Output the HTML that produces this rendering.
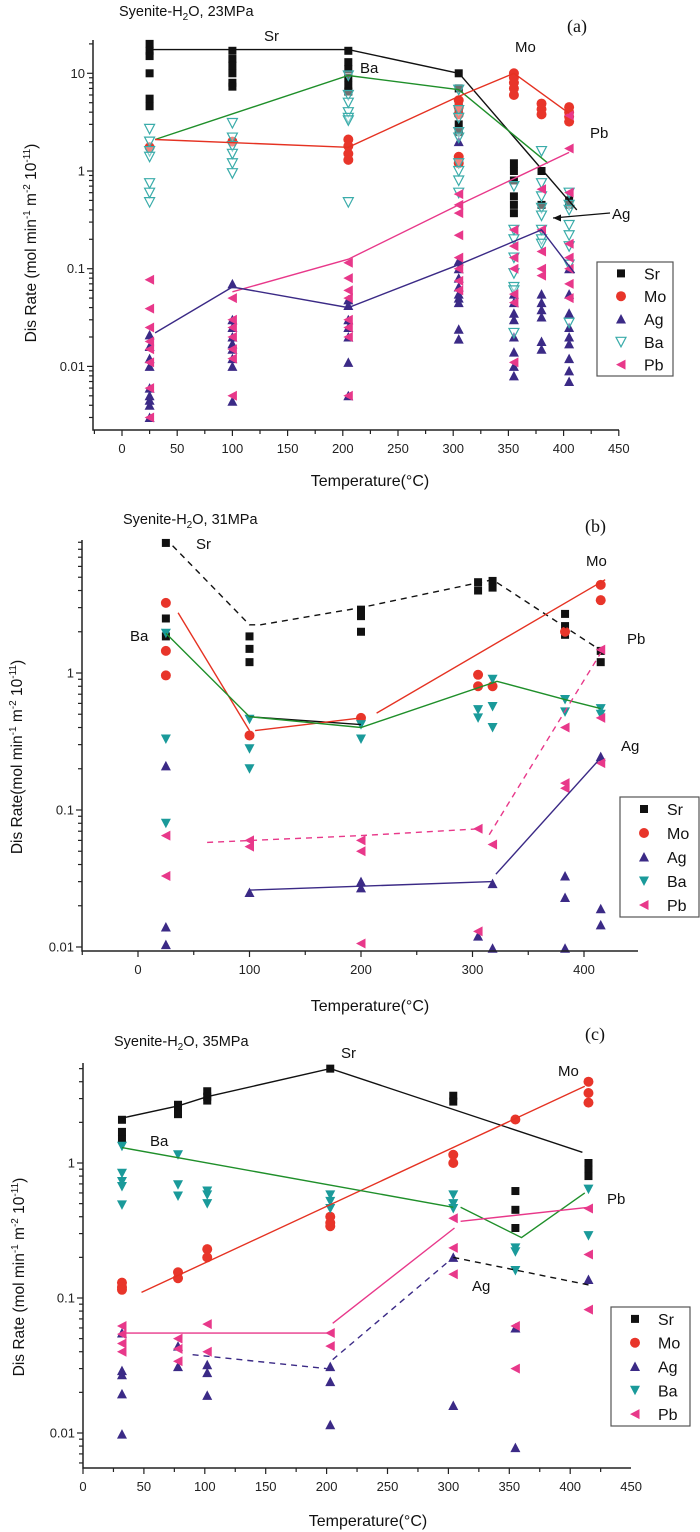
<!DOCTYPE html>
<html><head><meta charset="utf-8"><style>
html,body{margin:0;padding:0;background:#fff;}
svg{display:block;font-family:"Liberation Sans",sans-serif;}
</style></head><body>
<svg id="chart" width="700" height="1532" viewBox="0 0 700 1532" xmlns="http://www.w3.org/2000/svg"></svg>
<script>
// ---------- Panel (a) data: [temperature, [values]] ----------
const aSr=[[25,[20,17,15,10,5.5,4.6]],[100,[17,14,12,10,8,7.3]],[205,[17,13,11,9,7.5,6.5]],[305,[10,7,5,4,3,2.5]],[355,[1.2,1,0.8,0.55,0.45,0.37]],[380,[1.0,0.45]],[405,[0.5,0.45]]];
const aMo=[[25,[1.75]],[100,[2.0]],[205,[2.1,1.8,1.5,1.3]],[305,[5.3,4.5,3.8,1.4,1.2]],[355,[10,9,8,7,6]],[380,[4.9,4.3,3.8]],[405,[4.5,4,3.6,3.2]]];
const aAg=[[25,[0.021,0.016,0.012,0.01,0.006,0.005,0.0045,0.004,0.003]],[100,[0.07,0.03,0.025,0.02,0.017,0.015,0.012,0.01,0.0044]],[205,[0.048,0.042,0.03,0.025,0.02,0.011,0.005]],[305,[2.0,0.12,0.1,0.08,0.065,0.055,0.05,0.045,0.024,0.019]],[355,[0.055,0.045,0.035,0.03,0.02,0.014,0.01,0.008]],[380,[0.055,0.045,0.038,0.032,0.018,0.015]],[405,[0.1,0.055,0.035,0.025,0.02,0.017,0.012,0.009,0.007]]];
const aBa=[[25,[2.7,2.0,1.6,1.4,0.75,0.6,0.48]],[100,[3.1,2.2,1.8,1.5,1.2,0.95]],[205,[9.5,6,5,4,3.5,3.3,0.48]],[305,[6.8,4.2,3.5,2.5,2.2,1.2,1,0.8,0.6]],[355,[0.7,0.25,0.2,0.13,0.09,0.065,0.06,0.022]],[380,[1.6,0.75,0.55,0.42,0.35,0.25,0.2,0.18]],[405,[0.6,0.45,0.4,0.28,0.22,0.17,0.11,0.028]]];
const aPb=[[25,[0.077,0.039,0.025,0.018,0.015,0.011,0.006,0.003]],[100,[0.05,0.03,0.025,0.02,0.015,0.012,0.005]],[205,[0.115,0.08,0.06,0.05,0.03,0.025,0.02,0.005]],[305,[0.58,0.45,0.37,0.22,0.13,0.1,0.075,0.06]],[355,[0.25,0.17,0.13,0.1,0.055,0.045,0.011]],[380,[0.65,0.25,0.15,0.1,0.085]],[405,[3.7,1.7,0.6,0.18,0.13,0.1,0.07,0.05]]];
const aLineSr=[[25,17.5],[205,17.5],[305,10]];
const aLineSr2=[[308,9.2],[412,0.4]];
const aLineBa=[[30,2.1],[205,9.5],[305,6.8],[386,1.2]];
const aLineMo=[[30,2.1],[205,1.75],[305,5.8],[355,10],[405,3.9]];
const aLinePb=[[100,0.058],[205,0.125],[305,0.45],[405,1.55]];
const aLineAg=[[30,0.022],[100,0.065],[205,0.04],[305,0.11],[380,0.25],[410,0.09]];

// ---------- Panel (b) data ----------
const bSr=[[25,[8.9,2.5,1.85]],[100,[1.85,1.5,1.2]],[200,[2.9,2.6,2.0]],[305,[4.6,4.0]],[318,[4.7,4.2]],[383,[2.7,2.2,1.9]],[415,[1.45,1.2]]];
const bMo=[[25,[3.25,1.45,0.96]],[100,[0.35]],[200,[0.47]],[305,[0.97,0.8]],[318,[0.8]],[383,[2.0]],[415,[4.4,3.4]]];
const bAg=[[25,[0.21,0.014,0.0104]],[100,[0.025]],[200,[0.03,0.027]],[305,[0.012]],[318,[0.029,0.0098]],[383,[0.033,0.023,0.0098]],[415,[0.245,0.019,0.0145]]];
const bBa=[[25,[1.95,0.33,0.08]],[100,[0.46,0.28,0.2]],[200,[0.42,0.33]],[305,[0.54,0.47]],[318,[0.9,0.57,0.4]],[383,[0.64,0.52]],[415,[0.55,0.5]]];
const bPb=[[25,[0.065,0.033]],[100,[0.06,0.054]],[200,[0.06,0.05,0.0106]],[305,[0.073,0.013]],[318,[0.056]],[383,[0.4,0.157,0.144]],[415,[1.48,0.47,0.22]]];
const bLineSr=[[31,8.5],[100,2.25],[110,2.25],[200,3.0],[318,4.8],[413,1.5]];
const bLineSrSolid=[[100,0.48],[200,0.42]];
const bLineMo1=[[36,2.75],[100,0.38]];
const bLineMo2=[[105,0.38],[200,0.47]];
const bLineMo3=[[214,0.51],[419,4.8]];
const bLineBa=[[25,1.95],[100,0.48],[200,0.4],[322,0.87],[383,0.64],[415,0.55]];
const bLinePb1=[[62,0.058],[200,0.065],[308,0.073]];
const bLinePb2=[[315,0.066],[415,1.4]];
const bLineAg1=[[100,0.026],[318,0.03]];
const bLineAg2=[[321,0.034],[415,0.24]];

// ---------- Panel (c) data ----------
const cSr=[[32,[2.09,1.7,1.5]],[78,[2.7,2.5,2.3]],[102,[3.4,3.1,2.9]],[203,[5.0]],[304,[3.15,2.85]],[355,[0.62,0.45,0.33]],[415,[1.0,0.9,0.8]]];
const cMo=[[32,[0.13,0.12,0.115]],[78,[0.155,0.14]],[102,[0.23,0.2]],[203,[0.4,0.36,0.34]],[304,[1.15,1.0]],[355,[2.1]],[415,[4.0,3.3,2.8]]];
const cAg=[[32,[0.055,0.029,0.027,0.0195,0.0098]],[78,[0.044,0.031]],[102,[0.032,0.028,0.019]],[203,[0.031,0.024,0.0115]],[304,[0.2,0.016]],[355,[0.06,0.0078]],[415,[0.137]]];
const cBa=[[32,[1.33,0.84,0.73,0.67,0.49]],[78,[1.15,0.69,0.57]],[102,[0.62,0.58,0.5]],[203,[0.58,0.52,0.46]],[304,[0.58,0.5,0.46]],[355,[0.235,0.22,0.16]],[415,[0.64,0.29]]];
const cPb=[[32,[0.062,0.054,0.046,0.04]],[78,[0.05,0.042,0.034]],[102,[0.064,0.04]],[203,[0.055,0.044]],[304,[0.39,0.235,0.15]],[355,[0.062,0.03]],[415,[0.46,0.21,0.082]]];
const cLineSr=[[32,2.15],[78,2.65],[102,3.1],[203,5.0],[410,1.2]];
const cLineMo=[[48,0.11],[412,3.7]];
const cLineBa1=[[32,1.3],[304,0.47]];
const cLineBa2=[[310,0.47],[360,0.28],[412,0.6]];
const cLinePb1=[[32,0.055],[203,0.055]];
const cLinePb2=[[205,0.065],[305,0.33]];
const cLinePb3=[[310,0.37],[415,0.47]];
const cLineAg1=[[90,0.038],[200,0.03]];
const cLineAg2=[[205,0.035],[304,0.2]];
const cLineAgBlack=[[304,0.2],[415,0.125]];

const xTicksA=[0,50,100,150,200,250,300,350,400,450];
const xTicksB=[0,100,200,300,400];
const xTicksC=[0,50,100,150,200,250,300,350,400,450];
const yTicksA=[0.01,0.1,1,10];
const yTicksB=[0.01,0.1,1];
const yTicksC=[0.01,0.1,1];
const legendNames=["Sr","Mo","Ag","Ba","Pb"];

const NS="http://www.w3.org/2000/svg";
const svg=document.getElementById('chart');
const COL={Sr:"#111111",Mo:"#e8352a",Ag:"#3b2a86",Ba:"#1a9a9a",Pb:"#e8388a"};
const LCOL={Sr:"#111111",Mo:"#e53222",Ag:"#3b2a86",Ba:"#1f8f2a",Pb:"#e8388a"};

function mk(tag,attrs,parent){const e=document.createElementNS(NS,tag);for(const k in attrs)e.setAttribute(k,attrs[k]);(parent||svg).appendChild(e);return e;}

function marker(g,kind,x,y,openBa){
  let e;
  if(kind==="Sr"){e=mk('rect',{x:x-4,y:y-4,width:8,height:8,fill:COL.Sr},g);}
  else if(kind==="Mo"){e=mk('circle',{cx:x,cy:y,r:5,fill:COL.Mo},g);}
  else if(kind==="Ag"){e=mk('polygon',{points:`${x-5},${y+4.5} ${x+5},${y+4.5} ${x},${y-5}`,fill:COL.Ag},g);}
  else if(kind==="Ba"){
    if(openBa)e=mk('polygon',{points:`${x-5},${y-4.5} ${x+5},${y-4.5} ${x},${y+5}`,fill:"#fff","fill-opacity":"0.4",stroke:"#3aacaa","stroke-width":1.2},g);
    else e=mk('polygon',{points:`${x-5},${y-4.5} ${x+5},${y-4.5} ${x},${y+5}`,fill:COL.Ba},g);
  }
  else {e=mk('polygon',{points:`${x+4.5},${y-5} ${x+4.5},${y+5} ${x-5},${y}`,fill:COL.Pb},g);}
  
  
  return e;
}

function panel(c){
  const g=mk('g',{});
  
  
  const X=t=>c.x0+t*c.k;
  const Y=v=>c.y1-Math.log10(v)*c.dec;
  // markers
  for(const s of c.series){
    for(const grp of s.data){for(const v of grp[1]){marker(g,s.name,X(grp[0]),Y(v),c.openBa);}}
  }
  // lines
  for(const l of c.lines){
    const p=mk('polyline',{points:l.pts.map(q=>X(q[0]).toFixed(1)+','+Y(q[1]).toFixed(1)).join(' '),fill:'none',stroke:l.color,'stroke-width':1.4},g);
    if(l.dash)p.setAttribute('stroke-dasharray','6,5');
    
    
  }
  // axes
  const ax=mk('path',{d:`M${c.left},${c.top} V${c.bottom} H${c.right}`,fill:'none',stroke:'#222','stroke-width':1.5},g);
  
  
  // x ticks
  const tmin=(c.left-c.x0)/c.k, tmax=(c.right-c.x0)/c.k;
  for(let t=Math.ceil(tmin/c.minor)*c.minor;t<=tmax+0.01;t+=c.minor){
    const major=c.xTicks.includes(t);
    mk('line',{x1:X(t),x2:X(t),y1:c.bottom,y2:c.bottom+(major?6:4),stroke:'#222','stroke-width':1.2},g);
  }
  for(const t of c.xTicks){
    const tx=mk('text',{x:X(t),y:c.bottom+23,'text-anchor':'middle','font-size':13,fill:'#222'},g);
    tx.textContent=t;
    
    
  }
  // y ticks
  const dmin=Math.floor((c.y1-c.bottom)/c.dec), dmax=Math.ceil((c.y1-c.top)/c.dec);
  for(let d=dmin;d<=dmax;d++){
    for(let m=1;m<10;m++){
      const v=m*Math.pow(10,d), y=Y(v);
      if(y<c.top-0.5||y>c.bottom+0.5)continue;
      mk('line',{x1:c.left,x2:c.left-(m===1?6:4),y1:y,y2:y,stroke:'#222','stroke-width':1.2},g);
    }
  }
  for(const v of c.yTicks){
    const ty=mk('text',{x:c.left-8,y:Y(v)+4.5,'text-anchor':'end','font-size':13,fill:'#222'},g);
    ty.textContent=v;
    
    
  }
  // axis titles
  const xt=mk('text',{x:c.xtx,y:c.xty,'text-anchor':'middle','font-size':16,fill:'#111'},g);
  xt.textContent='Temperature(°C)';
  
  
  const yt=mk('text',{x:0,y:0,'text-anchor':'middle','font-size':15.5,fill:'#111',transform:`translate(${c.ytx},${c.yty}) rotate(-90)`},g);
  yt.innerHTML='Dis Rate'+(c.id==='b'?'':' ')+'(mol min<tspan dy="-6" font-size="10">-1</tspan><tspan dy="6"> m</tspan><tspan dy="-6" font-size="10">-2</tspan><tspan dy="6"> 10</tspan><tspan dy="-6" font-size="10">-11</tspan><tspan dy="6">)</tspan>';
  
  
  // title
  const tt=mk('text',{x:c.tx,y:c.ty,'font-size':14.5,fill:'#111'},g);
  tt.innerHTML='Syenite-H<tspan dy="4" font-size="10">2</tspan><tspan dy="-4">O, '+c.mpa+'</tspan>';
  
  
  const pl=mk('text',{x:c.plx,y:c.ply,'font-size':18,fill:'#111','font-family':'Liberation Serif, serif'},g);
  pl.textContent='('+c.id+')';
  
  
  // series labels
  for(const lb of c.labels){
    const t=mk('text',{x:lb[1],y:lb[2],'font-size':15,fill:'#111'},g);
    t.textContent=lb[0];
    
    
  }
  if(c.arrow){
    const a=mk('line',{x1:c.arrow[0],y1:c.arrow[1],x2:c.arrow[2],y2:c.arrow[3],stroke:'#111','stroke-width':1.2},g);
    
    
    mk('polygon',{points:`${c.arrow[2]},${c.arrow[3]} ${c.arrow[2]+8},${c.arrow[3]-3.5} ${c.arrow[2]+8},${c.arrow[3]+3.5}`,fill:'#111'},g);
  }
  // legend
  const L=c.legend;
  const lg=mk('g',{},g);
  
  
  const box=mk('rect',{x:L[0],y:L[1],width:L[2]-L[0],height:L[3]-L[1],fill:'#fff',stroke:'#555','stroke-width':1.2},lg);
  
  
  const step=(L[3]-L[1])/5;
  legendNames.forEach((n,i)=>{
    const cy=L[1]+step*(i+0.5);
    marker(lg,n,L[0]+24,cy,c.openBa);
    const t=mk('text',{x:L[0]+47,y:cy+6,'font-size':16,fill:'#111'},lg);
    t.textContent=n;
    
    
  });
}

panel({id:'a',mpa:'23MPa',openBa:true,x0:122,k:1.104,left:93,right:619,top:40,bottom:430,y1:171,dec:97.7,minor:25,
  xTicks:xTicksA,yTicks:yTicksA,
  series:[{name:'Sr',data:aSr},{name:'Mo',data:aMo},{name:'Ag',data:aAg},{name:'Ba',data:aBa},{name:'Pb',data:aPb}],
  lines:[{name:'sr-line',pts:aLineSr,color:LCOL.Sr},{name:'sr-line-drop',pts:aLineSr2,color:LCOL.Sr},{name:'ba-line',pts:aLineBa,color:LCOL.Ba},{name:'mo-line',pts:aLineMo,color:LCOL.Mo},{name:'pb-line',pts:aLinePb,color:LCOL.Pb},{name:'ag-line',pts:aLineAg,color:LCOL.Ag}],
  xtx:370,xty:486,ytx:36,yty:243,tx:119,ty:16,plx:567,ply:32,
  labels:[['Sr',264,41],['Ba',360,73],['Mo',515,52],['Pb',590,138],['Ag',612,219]],
  arrow:[610,213,553,218],legend:[597,262,673,376]});

panel({id:'b',mpa:'31MPa',openBa:false,x0:138,k:1.115,left:82,right:638,top:540,bottom:951,y1:673,dec:137,minor:50,
  xTicks:xTicksB,yTicks:yTicksB,
  series:[{name:'Sr',data:bSr},{name:'Mo',data:bMo},{name:'Ag',data:bAg},{name:'Ba',data:bBa},{name:'Pb',data:bPb}],
  lines:[{name:'sr-dashed-line',pts:bLineSr,color:LCOL.Sr,dash:true},{name:'sr-solid-line',pts:bLineSrSolid,color:LCOL.Sr},{name:'mo-line-1',pts:bLineMo1,color:LCOL.Mo},{name:'mo-line-2',pts:bLineMo2,color:LCOL.Mo},{name:'mo-line-3',pts:bLineMo3,color:LCOL.Mo},{name:'ba-line',pts:bLineBa,color:LCOL.Ba},{name:'pb-dashed-line-1',pts:bLinePb1,color:LCOL.Pb,dash:true},{name:'pb-dashed-line-2',pts:bLinePb2,color:LCOL.Pb,dash:true},{name:'ag-line-1',pts:bLineAg1,color:LCOL.Ag},{name:'ag-line-2',pts:bLineAg2,color:LCOL.Ag}],
  xtx:370,xty:1011,ytx:22,yty:757,tx:123,ty:524,plx:585,ply:532,
  labels:[['Sr',196,549],['Ba',130,641],['Mo',586,566],['Pb',627,644],['Ag',621,751]],
  legend:[620,797,699,917]});

panel({id:'c',mpa:'35MPa',openBa:false,x0:83,k:1.218,left:83,right:631,top:1063,bottom:1468,y1:1163,dec:135,minor:25,
  xTicks:xTicksC,yTicks:yTicksC,
  series:[{name:'Sr',data:cSr},{name:'Mo',data:cMo},{name:'Ag',data:cAg},{name:'Ba',data:cBa},{name:'Pb',data:cPb}],
  lines:[{name:'sr-line',pts:cLineSr,color:LCOL.Sr},{name:'mo-line',pts:cLineMo,color:LCOL.Mo},{name:'ba-line-1',pts:cLineBa1,color:LCOL.Ba},{name:'ba-line-2',pts:cLineBa2,color:LCOL.Ba},{name:'pb-line-1',pts:cLinePb1,color:LCOL.Pb},{name:'pb-line-2',pts:cLinePb2,color:LCOL.Pb},{name:'pb-line-3',pts:cLinePb3,color:LCOL.Pb},{name:'ag-dashed-line-1',pts:cLineAg1,color:LCOL.Ag,dash:true},{name:'ag-dashed-line-2',pts:cLineAg2,color:LCOL.Ag,dash:true},{name:'ag-black-dashed-line',pts:cLineAgBlack,color:LCOL.Sr,dash:true}],
  xtx:368,xty:1526,ytx:24,yty:1277,tx:114,ty:1046,plx:585,ply:1040,
  labels:[['Sr',341,1058],['Mo',558,1076],['Ba',150,1146],['Pb',607,1204],['Ag',472,1291]],
  legend:[611,1307,690,1426]});
</script>
</body></html>
